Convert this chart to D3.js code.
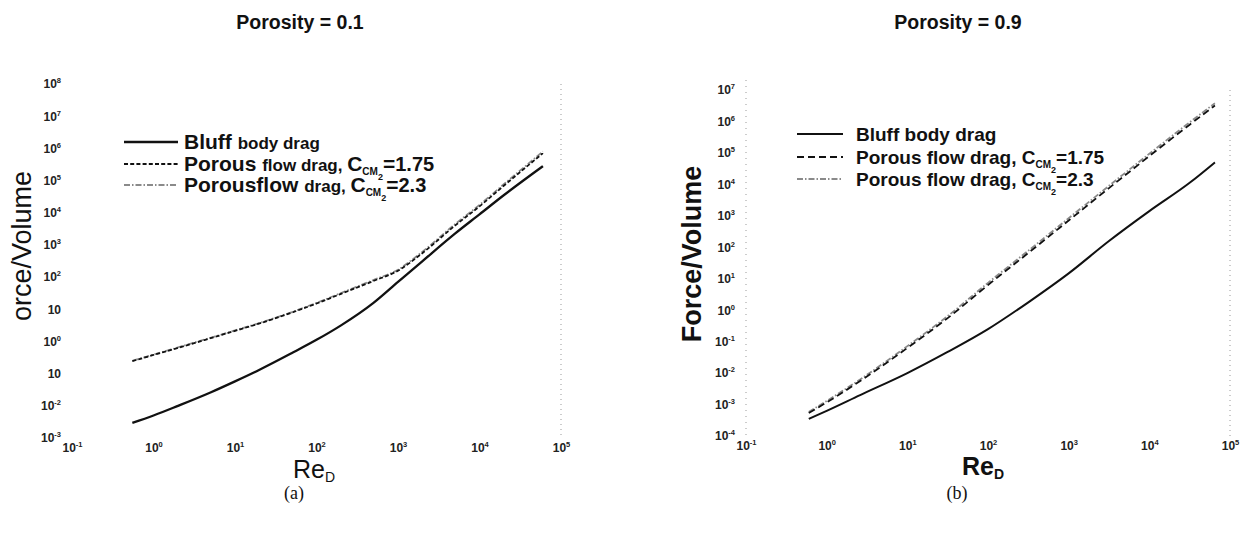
<!DOCTYPE html>
<html>
<head>
<meta charset="utf-8">
<script src="https://cdn.jsdelivr.net/npm/d3@7"></script>
<style>
  body { margin: 0; background: #fff; }
  svg { font-family: Arial, "Liberation Sans", Helvetica, sans-serif; }
  .tick-label { font-size: 12px; font-weight: bold; fill: #222; }
  .title { font-size: 19.5px; font-weight: bold; fill: #111; }
  .caption { font-family: "Liberation Serif", "DejaVu Serif", serif; font-size: 18px; fill: #111; }
</style>
</head>
<body>
<svg id="chart" width="1243" height="533"></svg>
<script>
// ---- data ----
// (a) porosity 0.1
const reA = [0.55, 1, 2, 5, 10, 20, 50, 100, 200, 500, 1000, 2000, 5000, 1e4, 2e4, 6e4];
const bluffA = [2.95e-3, 5.0e-3, 1.0e-2, 2.6e-2, 5.75e-2, 0.132, 0.437, 1.12, 3.16, 15.8, 70.8, 316, 2240, 8900, 35500, 2.8e5];
const porous175A = [0.245, 0.38, 0.63, 1.26, 2.14, 3.63, 7.94, 15.1, 30.2, 75.9, 158, 562, 3980, 15800, 70000, 7.1e5];
const porous23A = [0.25, 0.39, 0.65, 1.3, 2.2, 3.75, 8.2, 15.8, 32, 81, 170, 620, 4400, 17500, 78000, 8.0e5];

// (b) porosity 0.9
const reB = [0.6, 1, 2.6, 10, 31.6, 100, 316, 1000, 3160, 1e4, 31600, 65000];
const bluffB = [3.5e-4, 6.3e-4, 2.0e-3, 1.0e-2, 4.7e-2, 0.25, 1.78, 14.8, 158, 1410, 11200, 5.0e4];
const porous175B = [5.4e-4, 1.17e-3, 5.6e-3, 6.3e-2, 0.56, 6.3, 66, 708, 7600, 79400, 7.9e5, 3.2e6];
const porous23B = [5.8e-4, 1.3e-3, 6.3e-3, 7.2e-2, 0.65, 7.4, 78, 840, 9000, 94000, 9.4e5, 3.8e6];

// tick labels (exponents as printed; blanks are exponents lost in the scan)
const xTickExp = [-1, 0, 1, 2, 3, 4, 5];
const xTickSup = ["-1", "0", "1", "2", "3", "4", "5"];
const yTickExpA = [-3, -2, -1, 0, 1, 2, 3, 4, 5, 6, 7, 8];
const yTickSupA = ["-3", "-2", "", "0", "", "2", "3", "4", "5", "6", "7", "8"];
const yTickExpB = [-4, -3, -2, -1, 0, 1, 2, 3, 4, 5, 6, 7];
const yTickSupB = ["-4", "-3", "-2", "-1", "0", "1", "2", "3", "4", "5", "6", "7"];

const panels = [
  {
    title: "Porosity = 0.1", caption: "(a)", ylabel: "orce/Volume", bold: false,
    re: reA, bluff: bluffA, p175: porous175A, p23: porous23A,
    yExp: yTickExpA, ySup: yTickSupA, yDomain: [1e-3, 1e8],
    left: 72, right: 561, top: 84, bottom: 438,
    titleX: 300, ylabelX: 22, ylabelY: 246, reX: 293, reY: 478, captionX: 294,
    legend: { x1: 124, x2: 178, tx: 184, rows: [142, 164, 185], big: true },
    dash175: "4,2.2", leftSpine: false
  },
  {
    title: "Porosity = 0.9", caption: "(b)", ylabel: "Force/Volume", bold: true,
    re: reB, bluff: bluffB, p175: porous175B, p23: porous23B,
    yExp: yTickExpB, ySup: yTickSupB, yDomain: [1e-4, 1e7],
    left: 746, right: 1230, top: 90, bottom: 436,
    titleX: 958, ylabelX: 692, ylabelY: 254, reX: 962, reY: 475, captionX: 957,
    legend: { x1: 797, x2: 843, tx: 856, rows: [134, 157, 179], big: false },
    dash175: "7,4", leftSpine: true
  }
];

const svg = d3.select("#chart");

function supLabel(sel, sups, bigDy) {
  sel.each(function(d, i) {
    const t = d3.select(this);
    t.text(null).attr("class", "tick-label");
    t.append("tspan").text("10");
    if (sups[i]) t.append("tspan").attr("dy", bigDy).attr("font-size", 7.5).text(sups[i]);
  });
}

function renderPanel(p) {
  const x = d3.scaleLog().domain([0.1, 1e5]).range([p.left, p.right]);
  const y = d3.scaleLog().domain(p.yDomain).range([p.bottom, p.top]);
  const g = svg.append("g");

  // faint dotted spines left over in the scan
  g.append("line")
    .attr("x1", p.right).attr("x2", p.right).attr("y1", p.top).attr("y2", p.bottom)
    .attr("stroke", "#999").attr("stroke-width", 1).attr("stroke-dasharray", "1,4");
  if (p.leftSpine) {
    g.append("line")
      .attr("x1", p.left).attr("x2", p.left).attr("y1", p.top - 10).attr("y2", p.bottom)
      .attr("stroke", "#999").attr("stroke-width", 1).attr("stroke-dasharray", "1,5");
  }

  // axes
  g.append("g")
    .attr("transform", `translate(0,${p.bottom})`)
    .call(d3.axisBottom(x).tickValues(xTickExp.map(e => Math.pow(10, e))).tickSize(0).tickPadding(5))
    .call(a => a.select(".domain").remove())
    .selectAll(".tick text")
    .call(s => supLabel(s, xTickSup, -5));

  g.append("g")
    .attr("transform", `translate(${p.left},0)`)
    .call(d3.axisLeft(y).tickValues(p.yExp.map(e => Math.pow(10, e))).tickSize(0).tickPadding(11))
    .call(a => a.select(".domain").remove())
    .selectAll(".tick text")
    .call(s => supLabel(s, p.ySup, -5));

  // curves
  const series = [
    { v: p.p23, stroke: "#8a8a8a", width: 1.8, dash: "6,2,1.5,2" },
    { v: p.p175, stroke: "#111", width: 1.8, dash: p.dash175 },
    { v: p.bluff, stroke: "#111", width: p.bold ? 2 : 2.3, dash: null }
  ];
  const line = d3.line()
    .x(d => x(d[0]))
    .y(d => y(d[1]))
    .curve(d3.curveMonotoneX);

  g.selectAll(".series")
    .data(series)
    .enter()
    .append("path")
    .attr("class", "series")
    .attr("fill", "none")
    .attr("stroke", d => d.stroke)
    .attr("stroke-width", d => d.width)
    .attr("stroke-dasharray", d => d.dash)
    .attr("d", d => line(p.re.map((r, i) => [r, d.v[i]])));

  // legend
  const L = p.legend;
  const legendSeries = [series[2], series[1], series[0]];
  legendSeries.forEach((s, i) => {
    g.append("line")
      .attr("x1", L.x1).attr("x2", L.x2).attr("y1", L.rows[i]).attr("y2", L.rows[i])
      .attr("stroke", s.stroke).attr("stroke-width", s.width).attr("stroke-dasharray", s.dash);
  });
  renderLegendText(g, L, p.legend.big);

  // titles and labels
  g.append("text").attr("class", "title")
    .attr("x", p.titleX).attr("y", 29).attr("text-anchor", "middle").text(p.title);

  g.append("text")
    .attr("transform", `translate(${p.ylabelX},${p.ylabelY}) rotate(-90)`)
    .attr("text-anchor", "middle").attr("dy", 9)
    .attr("font-size", 27).attr("font-weight", p.bold ? "bold" : "normal").attr("fill", "#111")
    .text(p.ylabel);

  const re = g.append("text").attr("x", p.reX).attr("y", p.reY)
    .attr("font-size", 25).attr("font-weight", p.bold ? "bold" : "normal").attr("fill", "#111");
  re.append("tspan").text("Re");
  re.append("tspan").attr("dy", 4).attr("font-size", 14).text("D");

  g.append("text").attr("class", "caption")
    .attr("x", p.captionX).attr("y", 499).attr("text-anchor", "middle").text(p.caption);
}

function cmSub(t, bigSize, subSize) {
  // C_{CM_2}
  t.append("tspan").attr("font-size", bigSize).text("C");
  t.append("tspan").attr("dy", 4).attr("font-size", subSize).text("CM");
  t.append("tspan").attr("dy", 5).attr("font-size", subSize - 1).text("2");
  t.append("tspan").attr("dy", -9).attr("font-size", bigSize).text("=");
}

function renderLegendText(g, L, big) {
  const rows = [];
  for (let i = 0; i < 3; i++) {
    rows.push(g.append("text").attr("x", L.tx).attr("y", L.rows[i]).attr("dy", 7)
      .attr("font-weight", "bold").attr("fill", "#111"));
  }
  if (big) {
    rows[0].append("tspan").attr("font-size", 21).text("Bluff ");
    rows[0].append("tspan").attr("font-size", 17).text("body drag");

    rows[1].append("tspan").attr("font-size", 21).text("Porous ");
    rows[1].append("tspan").attr("font-size", 17).text("flow drag, ");
    cmSub(rows[1], 21, 10);
    rows[1].append("tspan").attr("font-size", 20).text("1.75");

    rows[2].append("tspan").attr("font-size", 21).text("Porousflow ");
    rows[2].append("tspan").attr("font-size", 17).text("drag, ");
    cmSub(rows[2], 21, 10);
    rows[2].append("tspan").attr("font-size", 20).text("2.3");
  } else {
    rows[0].append("tspan").attr("font-size", 19).text("Bluff body drag");
    rows[1].append("tspan").attr("font-size", 19).text("Porous flow drag, ");
    cmSub(rows[1], 19, 10);
    rows[1].append("tspan").attr("font-size", 19).text("1.75");
    rows[2].append("tspan").attr("font-size", 19).text("Porous flow drag, ");
    cmSub(rows[2], 19, 10);
    rows[2].append("tspan").attr("font-size", 19).text("2.3");
  }
}

panels.forEach(renderPanel);
</script>
</body>
</html>
